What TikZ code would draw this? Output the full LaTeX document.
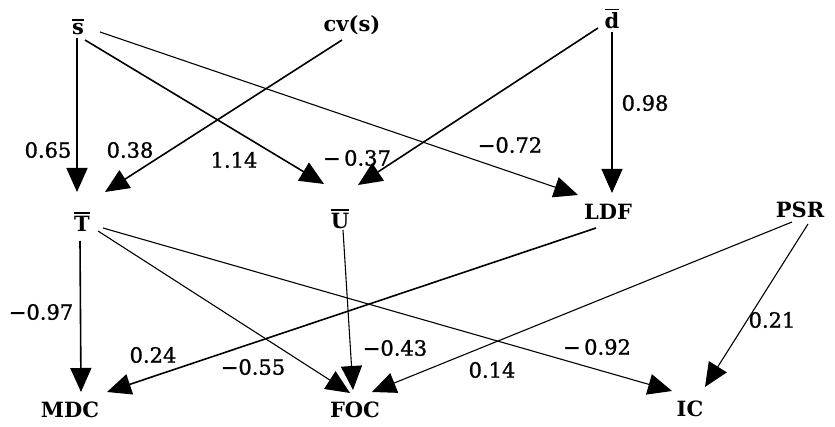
\documentclass[tikz,border=0pt]{standalone}
\usepackage{fontspec}
\setmainfont{DejaVu Serif}
\usetikzlibrary{arrows.meta}
\tikzset{
  var/.style={font=\fontsize{21}{24}\selectfont\bfseries, inner sep=0pt},
  coef/.style={font=\fontsize{21}{24}\selectfont\addfontfeatures{FakeBold=1.2}, inner sep=1pt},
  arr/.style={line width=1.1pt, -{Triangle[length=24pt,width=21pt]}},
  thick arr/.style={arr, line width=1.6pt},
}
\newcommand{\barred}[1]{{\setbox0\hbox{#1}\rlap{\raisebox{\dimexpr\ht0+2.5pt\relax}{\rule{\wd0}{1.2pt}}}\box0}}
\begin{document}
\begin{tikzpicture}[x=1pt,y=-1pt]
\useasboundingbox (0,0) rectangle (835,427);
% variables
\node[var] (s)   at (78,27)  {\barred{s}};
\node[var] (cv)  at (352,25) {cv(s)};
\node[var] (d)   at (612,19) {\barred{d}};
\node[var] (T)   at (82,222) {\barred{T}};
\node[var] (U)   at (340,219) {\barred{U}};
\node[var] (LDF) at (608,212) {LDF};
\node[var] (PSR) at (800,210) {PSR};
\node[var] (MDC) at (70,410)  {MDC};
\node[var] (FOC) at (355,410) {FOC};
\node[var] (IC)  at (690,409) {IC};
% connectors
\draw[thick arr] ([shift={(-1,11)}]s.center) -- ([shift={(-5,-30)}]T.center);
\draw[thick arr] ([shift={(-10,15)}]cv.center) -- ([shift={(23,-30)}]T.center);
\draw[thick arr] ([shift={(7,13)}]s.center) -- ([shift={(-16,-35)}]U.center);
\draw[thick arr] ([shift={(-14,9)}]d.center) -- ([shift={(18,-34)}]U.center);
\draw[arr] ([shift={(22,5)}]s.center) -- ([shift={(-30,-17)}]LDF.center);
\draw[arr] ([shift={(0,13)}]d.center) -- ([shift={(4,-19)}]LDF.center);
\draw[thick arr] ([shift={(-2,19)}]T.center) -- ([shift={(11,-18)}]MDC.center);
\draw[thick arr] ([shift={(-12,16)}]LDF.center) -- ([shift={(37,-18)}]MDC.center);
\draw[arr] ([shift={(16,9)}]T.center) -- ([shift={(-5,-17)}]FOC.center);
\draw[arr] ([shift={(3,11)}]U.center) -- ([shift={(-2,-20)}]FOC.center);
\draw[arr] ([shift={(-8,12)}]PSR.center) -- ([shift={(17,-18)}]FOC.center);
\draw[arr] ([shift={(21,6)}]T.center) -- ([shift={(-18,-18)}]IC.center);
\draw[arr] ([shift={(8,14)}]PSR.center) -- ([shift={(15,-22)}]IC.center);
% coefficients
\node[coef] (c1)  at (48,150)  {0.65};
\node[coef] (c2)  at (130,150) {0.38};
\node[coef] (c3)  at (234,160) {1.14};
\node[coef] (c4)  at (357,158) {−\,0.37};
\node[coef] (c5)  at (510,145) {−0.72};
\node[coef] (c6)  at (645,103) {0.98};
\node[coef] (c7)  at (41,312)  {−0.97};
\node[coef, fill=white] (c8)  at (153,355) {0.24};
\node[coef] (c9)  at (253,367) {−0.55};
\node[coef] (c10) at (395,348) {−0.43};
\node[coef] (c11) at (492,370) {0.14};
\node[coef] (c12) at (597,347) {−\,0.92};
\node[coef] (c13) at (772,320) {0.21};
\end{tikzpicture}
\end{document}
